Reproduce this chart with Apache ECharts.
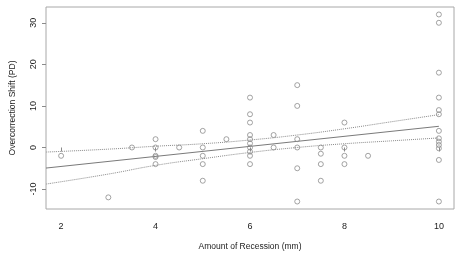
<!DOCTYPE html>
<html>
<head>
<meta charset="utf-8">
<script src="https://cdn.jsdelivr.net/npm/echarts@6/dist/echarts.min.js"></script>
<style>
  html, body { margin: 0; padding: 0; background: #fff; }
  #chart { width: 462px; height: 256px; }
</style>
</head>
<body>
<div id="chart"></div>
<script>
  // amount of recession (mm) and overcorrection shift (PD), one entry per eye
  const recession = [
    2, 3, 3.5,
    4, 4, 4, 4, 4,
    4.5,
    5, 5, 5, 5, 5,
    5.5,
    6, 6, 6, 6, 6, 6, 6, 6, 6, 6,
    6.5, 6.5,
    7, 7, 7, 7, 7, 7,
    7.5, 7.5, 7.5, 7.5,
    8, 8, 8, 8,
    8.5,
    10, 10, 10, 10, 10, 10, 10, 10, 10, 10, 10, 10, 10
  ];
  const shift = [
    -2, -12, 0,
    2, 0, -2, -2.3, -4,
    0,
    4, 0, -2, -4, -8,
    2,
    12, 8, 6, 3, 2, 1, 0, -1, -2, -4,
    3, 0,
    15, 10, 2, 0, -5, -13,
    0, -1.5, -4, -8,
    6, 0, -2, -4,
    -2,
    32, 30, 18, 12, 9, 8, 4, 2.2, 1.4, 0.6, -0.2, -3, -13
  ];

  // regression line and its confidence band
  const fitX = [1.68, 10];
  const fitY = [-4.95, 5.1];
  const bandX = [1.68, 3, 4, 5, 6, 7, 8, 9, 10];
  const upperY = [-1.1, -0.4, 0.3, 0.9, 1.8, 3.0, 4.5, 6.2, 7.9];
  const lowerY = [-8.8, -6.4, -4.3, -2.7, -1.2, 0.0, 0.9, 1.6, 2.3];

  const xTicks = [2, 4, 6, 8, 10];
  const yTicks = [-10, 0, 10, 20, 30];

  const font = '"Liberation Sans", Arial, sans-serif';
  const pair = (xs, ys) => xs.map((x, i) => [x, ys[i]]);

  const chart = echarts.init(document.getElementById('chart'));
  chart.setOption({
    animation: false,
    backgroundColor: '#fff',
    grid: {
      left: 43,
      right: 8,
      top: 7,
      bottom: 46,
      show: true,
      borderColor: '#a8a8a8',
      borderWidth: 1,
    },
    xAxis: {
      type: 'value',
      min: 1.68,
      max: 10.32,
      name: 'Amount of Recession (mm)',
      nameLocation: 'middle',
      nameGap: 33,
      nameTextStyle: { color: '#222', fontSize: 8.5, fontFamily: font },
      axisLine: { show: false },
      splitLine: { show: false },
      axisTick: {
        show: true,
        length: 4,
        customValues: xTicks,
        lineStyle: { color: '#8a8a8a' },
      },
      axisLabel: {
        customValues: xTicks,
        margin: 13,
        color: '#222',
        fontSize: 9,
        fontFamily: font,
      },
    },
    yAxis: {
      type: 'value',
      min: -14.8,
      max: 33.8,
      name: 'Overcorrection Shift (PD)',
      nameLocation: 'middle',
      nameGap: 29,
      nameTextStyle: { color: '#222', fontSize: 8.5, fontFamily: font },
      axisLine: { show: false },
      splitLine: { show: false },
      axisTick: {
        show: true,
        length: 4,
        customValues: yTicks,
        lineStyle: { color: '#8a8a8a' },
      },
      axisLabel: {
        customValues: yTicks,
        rotate: 90,
        margin: 8,
        color: '#222',
        fontSize: 9,
        fontFamily: font,
      },
    },
    series: [
      {
        type: 'line',
        data: pair(fitX, fitY),
        showSymbol: false,
        lineStyle: { color: '#7a7a7a', width: 1 },
        z: 2,
      },
      {
        type: 'line',
        data: pair(bandX, upperY),
        smooth: true,
        showSymbol: false,
        lineStyle: { color: '#8a8a8a', width: 1, type: 'dotted' },
        z: 2,
      },
      {
        type: 'line',
        data: pair(bandX, lowerY),
        smooth: true,
        showSymbol: false,
        lineStyle: { color: '#8a8a8a', width: 1, type: 'dotted' },
        z: 2,
      },
      {
        type: 'scatter',
        data: pair(recession, shift),
        symbol: 'circle',
        symbolSize: 5,
        itemStyle: {
          color: 'rgba(0,0,0,0)',
          borderColor: '#8c8c8c',
          borderWidth: 1,
        },
        z: 3,
      },
    ],
  });
</script>
</body>
</html>
